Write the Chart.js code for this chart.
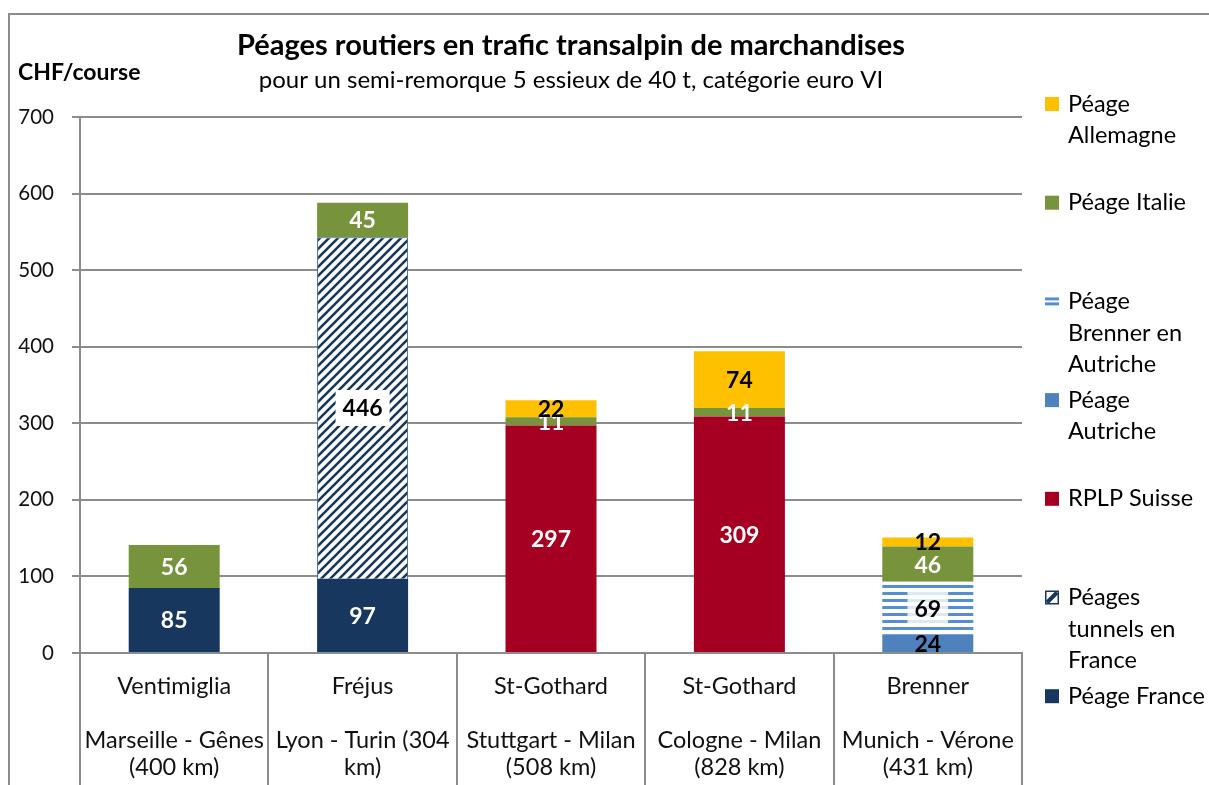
<!DOCTYPE html>
<html>
<head>
<meta charset="utf-8">
<script src="https://cdn.jsdelivr.net/npm/chart.js@4.4.1/dist/chart.umd.min.js"></script>
<style>
  html, body { margin: 0; padding: 0; background: #fff; }
</style>
</head>
<body>
<canvas id="chart" width="1209" height="785"></canvas>
<script>
// categories
const passes = ['Ventimiglia', 'Fréjus', 'St-Gothard', 'St-Gothard', 'Brenner'];
const routes = [
  ['Marseille - Gênes', '(400 km)'],
  ['Lyon - Turin (304', 'km)'],
  ['Stuttgart - Milan', '(508 km)'],
  ['Cologne - Milan', '(828 km)'],
  ['Munich - Vérone', '(431 km)']
];
const yTicks = [0, 100, 200, 300, 400, 500, 600, 700];

// CHF per trip
const peageFrance     = [85, 97, null, null, null];
const tunnelsFrance   = [null, 446, null, null, null];
const rplpSuisse      = [null, null, 297, 309, null];
const peageAutriche   = [null, null, null, null, 24];
const brennerAutriche = [null, null, null, null, 69];
const peageItalie     = [56, 45, 11, 11, 46];
const peageAllemagne  = [null, null, 22, 74, 12];

const legendLines = [
  ['Péage France'],
  ['Péages', 'tunnels en', 'France'],
  ['RPLP Suisse'],
  ['Péage', 'Autriche'],
  ['Péage', 'Brenner en', 'Autriche'],
  ['Péage Italie'],
  ['Péage', 'Allemagne']
];

const FONT = "Lato, 'Open Sans', sans-serif";
const NAVY = '#17375e';
const GRID = '#8c8c8c';

const ctx = document.getElementById('chart').getContext('2d');

function hatch() {
  const c = document.createElement('canvas');
  c.width = 9; c.height = 9;
  const g = c.getContext('2d');
  g.fillStyle = '#fff';
  g.fillRect(0, 0, 9, 9);
  g.strokeStyle = NAVY;
  g.lineWidth = 2.6;
  g.beginPath();
  g.moveTo(-1, 10); g.lineTo(10, -1);
  g.moveTo(-2, 2); g.lineTo(2, -2);
  g.moveTo(7, 11); g.lineTo(11, 7);
  g.stroke();
  return ctx.createPattern(c, 'repeat');
}

function stripes() {
  const c = document.createElement('canvas');
  c.width = 7; c.height = 7;
  const g = c.getContext('2d');
  g.fillStyle = '#fff';
  g.fillRect(0, 0, 7, 7);
  g.fillStyle = '#558ed5';
  g.fillRect(0, 4, 7, 3);
  return ctx.createPattern(c, 'repeat');
}

const hatchFill = hatch();
const stripeFill = stripes();

function legendMarker(g, ds, x, y) {
  if (ds.marker === 'hatch') {
    g.fillStyle = '#fff';
    g.fillRect(x, y, 14, 14);
    g.strokeStyle = NAVY;
    g.lineWidth = 1.5;
    g.strokeRect(x + 0.75, y + 0.75, 12.5, 12.5);
    g.lineWidth = 4;
    g.beginPath();
    g.moveTo(x + 2, y + 12); g.lineTo(x + 12, y + 2);
    g.stroke();
  } else if (ds.marker === 'stripes') {
    g.fillStyle = '#558ed5';
    g.fillRect(x, y + 3, 14, 3);
    g.fillRect(x, y + 8, 14, 3);
  } else {
    g.fillStyle = ds.backgroundColor;
    g.fillRect(x, y, 14, 14);
  }
}

const decor = {
  id: 'decor',
  beforeDraw(chart) {
    const g = chart.ctx;
    g.save();
    g.strokeStyle = GRID;
    g.lineWidth = 2;
    g.beginPath();
    g.moveTo(9, 800); g.lineTo(9, 14); g.lineTo(1220, 14);
    g.stroke();
    g.restore();
  },
  afterDraw(chart) {
    const g = chart.ctx;
    g.save();
    g.fillStyle = '#000';
    g.textBaseline = 'middle';
    g.textAlign = 'center';
    g.font = 'bold 29px ' + FONT;
    g.fillText('Péages routiers en trafic transalpin de marchandises', 571, 46);
    g.font = '24px ' + FONT;
    g.fillText('pour un semi-remorque 5 essieux de 40 t, catégorie euro VI', 571, 80);
    g.textAlign = 'left';
    g.font = 'bold 23px ' + FONT;
    g.fillText('CHF/course', 18, 73);

    // legend, top entry = last dataset
    g.font = '23.5px ' + FONT;
    const n = chart.data.datasets.length;
    for (let k = 0; k < n; k++) {
      const i = n - 1 - k;
      const ds = chart.data.datasets[i];
      const y0 = 104 + k * 98.7;
      legendMarker(g, ds, 1045, y0 - 7);
      g.fillStyle = '#000';
      legendLines[i].forEach((t, j) => g.fillText(t, 1068, y0 + j * 31.6));
    }
    g.restore();
  }
};

const valueLabels = {
  id: 'valueLabels',
  afterDatasetsDraw(chart) {
    const g = chart.ctx;
    g.save();
    g.font = 'bold 23px ' + FONT;
    g.textAlign = 'center';
    g.textBaseline = 'middle';
    chart.data.datasets.forEach((ds, i) => {
      chart.getDatasetMeta(i).data.forEach((bar, j) => {
        const v = ds.data[j];
        if (v == null) return;
        const y = (bar.y + bar.base) / 2;
        if (ds.labelBox) {
          const w = g.measureText(String(v)).width + 14;
          g.fillStyle = ds.labelBox;
          g.fillRect(bar.x - w / 2, y - 18, w, 36);
        }
        g.fillStyle = ds.labelColor;
        g.fillText(String(v), bar.x, y + 1);
      });
    });
    g.restore();
  }
};

new Chart(ctx, {
  type: 'bar',
  data: {
    labels: passes.map((p, i) => [p, '', routes[i][0], routes[i][1]]),
    datasets: [
      { label: 'Péage France', data: peageFrance, backgroundColor: NAVY, labelColor: '#fff' },
      { label: 'Péages tunnels en France', data: tunnelsFrance, backgroundColor: hatchFill,
        borderColor: '#2e5c9a', borderWidth: 1, marker: 'hatch', labelColor: '#000', labelBox: '#fff' },
      { label: 'RPLP Suisse', data: rplpSuisse, backgroundColor: '#a50021', labelColor: '#fff' },
      { label: 'Péage Autriche', data: peageAutriche, backgroundColor: '#4f81bd', labelColor: '#000' },
      { label: 'Péage Brenner en Autriche', data: brennerAutriche, backgroundColor: stripeFill,
        marker: 'stripes', labelColor: '#000', labelBox: 'rgba(255,255,255,0.8)' },
      { label: 'Péage Italie', data: peageItalie, backgroundColor: '#77933c', labelColor: '#fff' },
      { label: 'Péage Allemagne', data: peageAllemagne, backgroundColor: '#ffc000', labelColor: '#000' }
    ]
  },
  options: {
    responsive: false,
    animation: false,
    categoryPercentage: 1,
    barPercentage: 0.483,
    layout: { padding: { left: 8, right: 187, top: 117, bottom: 0 } },
    plugins: {
      legend: { display: false },
      title: { display: false },
      tooltip: { enabled: false }
    },
    scales: {
      x: {
        stacked: true,
        grid: { offset: true, drawOnChartArea: false, drawTicks: true, tickLength: 132, color: GRID, lineWidth: 2 },
        border: { color: GRID, width: 2 },
        ticks: {
          color: '#111',
          font: { size: 23.5, family: FONT, lineHeight: 1.15 },
          padding: -112.5,
          maxRotation: 0,
          autoSkip: false
        },
        afterFit: s => { s.height = 132; }
      },
      y: {
        stacked: true,
        min: 0,
        max: 700,
        grid: { color: GRID, lineWidth: 2, tickLength: 8 },
        border: { color: GRID, width: 2 },
        ticks: { color: '#111', font: { size: 20.5, family: FONT }, padding: 18 },
        afterBuildTicks: s => { s.ticks = yTicks.map(v => ({ value: v })); },
        afterFit: s => { s.width = 72; }
      }
    }
  },
  plugins: [decor, valueLabels]
});
</script>
</body>
</html>
